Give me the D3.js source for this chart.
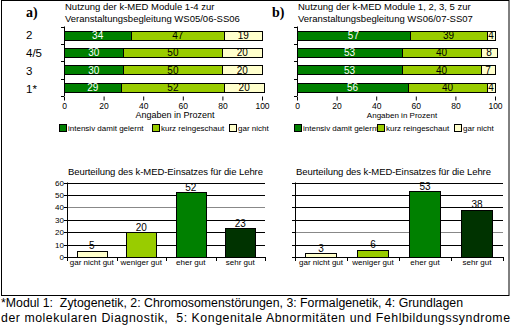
<!DOCTYPE html>
<html>
<head>
<meta charset="utf-8">
<script src="https://cdn.jsdelivr.net/npm/d3@7/dist/d3.min.js"></script>
<style>
  body { margin: 0; background: #fff; }
  text { font-family: "Liberation Sans", Arial, sans-serif; }
</style>
</head>
<body>
<div id="chart"></div>
<script>
// modules shown on the bar rows (top to bottom)
const modules = ["2", "4/5", "3", "1*"];
const usageKeys = ["intensiv", "kurz", "gar"];
const usageLabels = ["intensiv damit gelernt", "kurz reingeschaut", "gar nicht"];

// WS05/06-SS06
const intensivA = [34, 30, 30, 29];
const kurzA = [47, 50, 50, 52];
const garA = [19, 20, 20, 20];
// WS06/07-SS07
const intensivB = [57, 53, 53, 56];
const kurzB = [39, 40, 40, 40];
const garB = [4, 8, 7, 4];

const ratingCats = ["gar nicht gut", "weniger gut", "eher gut", "sehr gut"];
const ratingA = [5, 20, 52, 23];
const ratingB = [3, 6, 53, 38];

const pctTicks = [0, 20, 40, 60, 80, 100];
const ratingTicks = [0, 10, 20, 30, 40, 50, 60];

const footnote = [
  "*Modul 1:  Zytogenetik, 2: Chromosomenstörungen, 3: Formalgenetik, 4: Grundlagen",
  "der molekularen Diagnostik,  5: Kongenitale Abnormitäten und Fehlbildungssyndrome"
];

const usageColors = {intensiv: "#008000", kurz: "#99cc00", gar: "#ffffcc"};
const ratingColors = ["#ffffcc", "#99cc00", "#008000", "#003300"];

const W = 514, H = 333;
const svg = d3.select("#chart").append("svg")
  .attr("width", W).attr("height", H)
  .attr("viewBox", [0, 0, W, H]);

// frame around both panels
svg.append("rect")
  .attr("x", 1.5).attr("y", 0.5)
  .attr("width", 507.5).attr("height", 295)
  .attr("fill", "none").attr("stroke", "#000");

function usageChart(cfg) {
  const g = svg.append("g");
  const x = d3.scaleLinear().domain([0, 100]).range([cfg.left, cfg.left + 198]);
  const y = d3.scaleBand().domain(modules).range([26.5, 96])
    .paddingInner(0.48).paddingOuter(0.24);

  g.append("text").text(cfg.tag)
    .attr("x", cfg.tagX).attr("y", 17)
    .style("font-family", "'Liberation Serif', 'Times New Roman', serif")
    .style("font-weight", "bold").style("font-size", "14px");

  g.selectAll(".title").data(cfg.title).join("text")
    .attr("x", cfg.left + 1).attr("y", (d, i) => 10 + i * 12)
    .style("font-size", "9.5px").text(d => d);

  const rows = modules.map((m, i) => ({
    module: m, intensiv: cfg.intensiv[i], kurz: cfg.kurz[i], gar: cfg.gar[i]
  }));
  const series = d3.stack().keys(usageKeys)(rows);

  const seg = g.selectAll(".series").data(series).join("g");
  seg.selectAll("rect").data(d => d).join("rect")
    .attr("x", d => Math.round(x(d[0])) + 0.5)
    .attr("y", d => Math.round(y(d.data.module)) + 0.5)
    .attr("width", d => Math.round(x(d[1])) - Math.round(x(d[0])))
    .attr("height", Math.round(y.bandwidth()))
    .attr("fill", function () { return usageColors[d3.select(this.parentNode).datum().key]; })
    .attr("stroke", "#000");

  seg.each(function (s) {
    d3.select(this).selectAll("text").data(s).join("text")
      .attr("x", d => (x(d[0]) + x(d[1])) / 2)
      .attr("y", d => y(d.data.module) + y.bandwidth() / 2 + 3.6)
      .attr("text-anchor", "middle")
      .attr("fill", s.key === "intensiv" ? "#fff" : "#000")
      .style("font-size", "10px")
      .text(d => d.data[s.key]);
  });

  // category axis: line with ticks between the rows
  const [y0, y1] = y.range();
  g.append("line").attr("x1", cfg.left + 0.5).attr("x2", cfg.left + 0.5)
    .attr("y1", y0).attr("y2", y1).attr("stroke", "#000");
  g.selectAll(".ytick").data(d3.range(modules.length + 1)).join("line")
    .attr("x1", cfg.left - 3).attr("x2", cfg.left)
    .attr("y1", i => Math.round(y0 + i * y.step()) + 0.5)
    .attr("y2", i => Math.round(y0 + i * y.step()) + 0.5)
    .attr("stroke", "#000");
  if (cfg.showModules) {
    g.selectAll(".ylab").data(modules).join("text")
      .attr("x", 26).attr("y", (d, i) => y(d) + y.bandwidth() / 2 + 4 + i * 0.7)
      .style("font-size", "11.5px").text(d => d);
  }

  const xAxis = g.append("g").attr("transform", `translate(0,${Math.round(y1) + 0.5})`)
    .call(d3.axisBottom(x).tickValues(pctTicks).tickSize(4).tickPadding(2));
  xAxis.select(".domain").remove();
  xAxis.selectAll("text").style("font-size", "8.5px").attr("fill", "#000")
    .style("font-family", "'Liberation Sans', Arial, sans-serif");

  g.append("text").text("Angaben in Prozent")
    .attr("x", cfg.axisTitleX).attr("y", 118).attr("text-anchor", "middle")
    .style("font-size", cfg.axisTitleSize);

  // legend
  usageKeys.forEach((k, i) => {
    g.append("rect").attr("x", cfg.legendX[i] + 0.5).attr("y", 124.5)
      .attr("width", 7).attr("height", 7)
      .attr("fill", usageColors[k]).attr("stroke", "#000");
    g.append("text").attr("x", cfg.legendX[i] + 9).attr("y", 131)
      .style("font-size", "8px").text(usageLabels[i]);
  });
}

function ratingChart(cfg) {
  const g = svg.append("g");
  const x = d3.scaleBand().domain(ratingCats).range([cfg.left, cfg.right])
    .paddingInner(0.4).paddingOuter(0.2);
  const y = d3.scaleLinear().domain([0, 60]).range([257, 182.5]);

  g.append("text").text("Beurteilung des k-MED-Einsatzes für die Lehre")
    .attr("x", cfg.titleX).attr("y", 175).style("font-size", "9.5px")
    .attr("textLength", 195).attr("lengthAdjust", "spacing");

  g.selectAll(".grid").data(ratingTicks).join("line")
    .attr("x1", cfg.left).attr("x2", cfg.right)
    .attr("y1", d => Math.round(y(d)) + 0.5).attr("y2", d => Math.round(y(d)) + 0.5)
    .attr("stroke", d => d === cfg.grayLine ? "#888" : "#000");
  g.selectAll(".ytick").data(ratingTicks).join("line")
    .attr("x1", cfg.left - 3).attr("x2", cfg.left)
    .attr("y1", d => Math.round(y(d)) + 0.5).attr("y2", d => Math.round(y(d)) + 0.5)
    .attr("stroke", "#000");
  g.append("line").attr("x1", cfg.left + 0.5).attr("x2", cfg.left + 0.5)
    .attr("y1", y(60)).attr("y2", y(0)).attr("stroke", "#000");

  if (cfg.showTicks) {
    g.selectAll(".ylab").data(ratingTicks).join("text")
      .attr("x", cfg.left - 3).attr("y", d => y(d) + 3)
      .attr("text-anchor", "end").style("font-size", "8px").text(d => d);
  }

  g.selectAll(".bar").data(cfg.values).join("rect")
    .attr("x", (d, i) => Math.round(x(ratingCats[i])) + 0.5)
    .attr("y", d => Math.round(y(d)) + 0.5)
    .attr("width", Math.round(x.bandwidth()))
    .attr("height", d => Math.round(y(0)) - Math.round(y(d)))
    .attr("fill", (d, i) => ratingColors[i]).attr("stroke", "#000");

  g.selectAll(".val").data(cfg.values).join("text")
    .attr("x", (d, i) => x(ratingCats[i]) + x.bandwidth() / 2)
    .attr("y", d => y(d) - 1.5).attr("text-anchor", "middle")
    .style("font-size", "10px").text(d => d);

  // category ticks between bars
  g.selectAll(".xtick").data(d3.range(ratingCats.length + 1)).join("line")
    .attr("x1", i => Math.round(cfg.left + i * x.step()) + 0.5)
    .attr("x2", i => Math.round(cfg.left + i * x.step()) + 0.5)
    .attr("y1", Math.round(y(0))).attr("y2", Math.round(y(0)) + 4)
    .attr("stroke", "#000");
  g.selectAll(".xlab").data(ratingCats).join("text")
    .attr("x", d => x(d) + x.bandwidth() / 2).attr("y", 265)
    .attr("text-anchor", "middle").style("font-size", "8px").text(d => d);
}

usageChart({
  tag: "a)", tagX: 26, left: 64, showModules: true,
  title: ["Nutzung der k-MED Module 1-4 zur", "Veranstaltungsbegleitung WS05/06-SS06"],
  intensiv: intensivA, kurz: kurzA, gar: garA,
  axisTitleX: 175, axisTitleSize: "9px", legendX: [59, 152, 229]
});
usageChart({
  tag: "b)", tagX: 272, left: 297, showModules: false,
  title: ["Nutzung der k-MED Module 1, 2, 3, 5 zur", "Veranstaltungsbegleitung WS06/07-SS07"],
  intensiv: intensivB, kurz: kurzB, gar: garB,
  axisTitleX: 402, axisTitleSize: "8px", legendX: [294, 377, 454]
});

ratingChart({left: 67, right: 265, titleX: 68, values: ratingA, showTicks: true, grayLine: 40});
ratingChart({left: 295, right: 503, titleX: 296, values: ratingB, showTicks: false, grayLine: 20});

// footnote, stretched to the widths of the two lines
const footWidths = [462, 509];
svg.selectAll(".foot").data(footnote).join("text")
  .attr("x", 1).attr("y", (d, i) => 307 + i * 15)
  .style("font-size", "12.3px").style("white-space", "pre")
  .attr("textLength", (d, i) => footWidths[i]).attr("lengthAdjust", "spacing")
  .text(d => d);
</script>
</body>
</html>
